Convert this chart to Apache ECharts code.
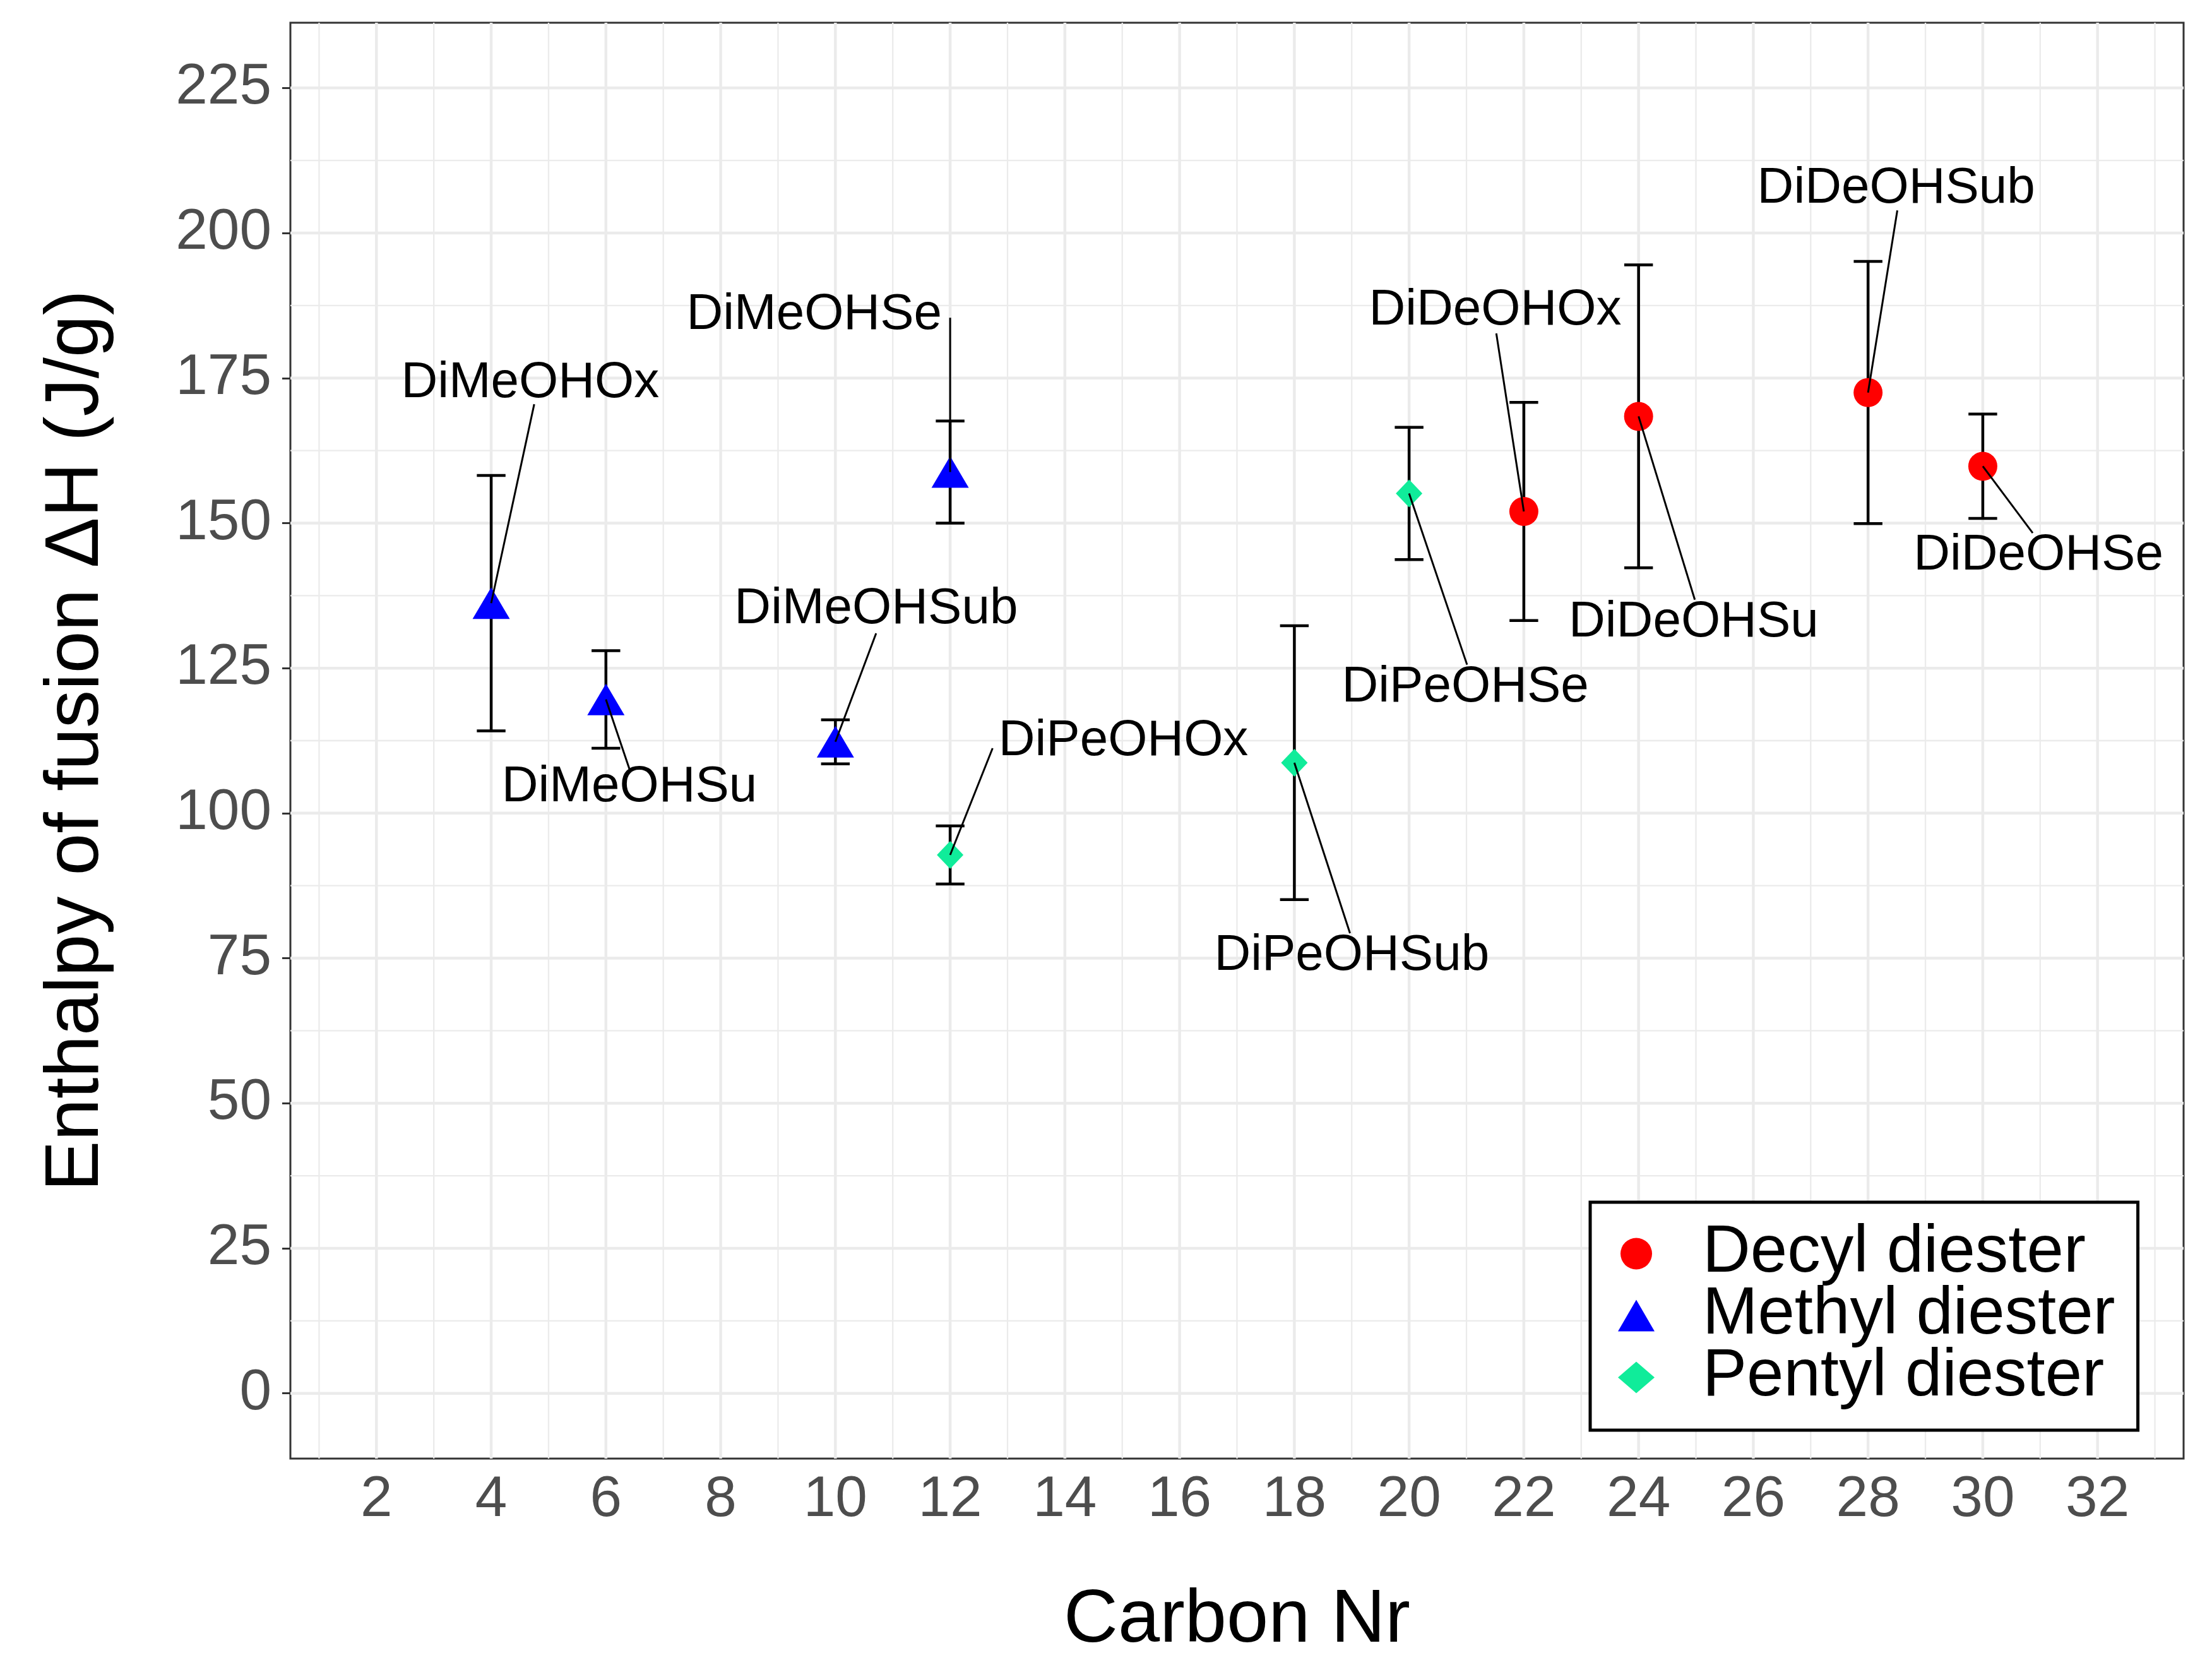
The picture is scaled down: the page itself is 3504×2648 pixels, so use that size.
<!DOCTYPE html>
<html>
<head>
<meta charset="utf-8">
<script src="https://cdn.jsdelivr.net/npm/echarts@6/dist/echarts.min.js"></script>
<style>
  html, body { margin: 0; padding: 0; background: #fff; }
  #chart { width: 3504px; height: 2648px; }
</style>
</head>
<body>
<div id="chart"></div>
<script>
// axis limits (ggplot default 5% expansion of 2..32 and 0..225)
var xMin = 0.5, xMax = 33.5;
var yMin = -11.25, yMax = 236.25;
var xTicks = [2, 4, 6, 8, 10, 12, 14, 16, 18, 20, 22, 24, 26, 28, 30, 32];
var xMinor = [1, 3, 5, 7, 9, 11, 13, 15, 17, 19, 21, 23, 25, 27, 29, 31, 33];
var yTicks = [0, 25, 50, 75, 100, 125, 150, 175, 200, 225];
var yMinor = [12.5, 37.5, 62.5, 87.5, 112.5, 137.5, 162.5, 187.5, 212.5];

// Decyl diester
var decylX = [22, 24, 28, 30];
var decylY = [152.0, 168.4, 172.5, 159.8];
var decylSd = [18.8, 26.1, 22.6, 9.0];
var decylNames = ['DiDeOHOx', 'DiDeOHSu', 'DiDeOHSub', 'DiDeOHSe'];
var decylLabelX = [21.5, 24.96, 28.49, 30.97];
var decylLabelY = [186.6, 132.9, 207.6, 144.4];
var decylSegX = [21.52, 24.98, 28.51, 30.87];
var decylSegY = [182.7, 136.8, 203.9, 148.3];

// Methyl diester
var methylX = [4, 6, 10, 12];
var methylY = [136.2, 119.6, 112.3, 158.8];
var methylSd = [22.0, 8.4, 3.8, 8.8];
var methylNames = ['DiMeOHOx', 'DiMeOHSu', 'DiMeOHSub', 'DiMeOHSe'];
var methylLabelX = [4.68, 6.41, 10.71, 9.63];
var methylLabelY = [174.1, 104.4, 135.1, 185.9];
var methylSegX = [4.75, 6.41, 10.71, 12.0];
var methylSegY = [170.5, 107.6, 131.0, 185.4];

// Pentyl diester
var pentylX = [12, 18, 20];
var pentylY = [92.8, 108.7, 155.1];
var pentylSd = [5.0, 23.6, 11.4];
var pentylNames = ['DiPeOHOx', 'DiPeOHSub', 'DiPeOHSe'];
var pentylLabelX = [15.02, 19.0, 20.98];
var pentylLabelY = [112.4, 75.4, 121.7];
var pentylSegX = [12.74, 18.97, 21.01];
var pentylSegY = [111.2, 79.3, 125.6];

var FONT = '"Liberation Sans", Arial, sans-serif';

function zip2(a, b) {
  return a.map(function (v, i) { return [v, b[i]]; });
}
function errData(xs, ys, sd) {
  return xs.map(function (v, i) { return [v, ys[i] - sd[i], ys[i] + sd[i]]; });
}
function labelData(xs, ys, sx, sy, lx, ly, names) {
  return xs.map(function (v, i) { return [v, ys[i], sx[i], sy[i], lx[i], ly[i], names[i]]; });
}

var errAll = errData(decylX, decylY, decylSd)
  .concat(errData(methylX, methylY, methylSd))
  .concat(errData(pentylX, pentylY, pentylSd));

var labAll = labelData(decylX, decylY, decylSegX, decylSegY, decylLabelX, decylLabelY, decylNames)
  .concat(labelData(methylX, methylY, methylSegX, methylSegY, methylLabelX, methylLabelY, methylNames))
  .concat(labelData(pentylX, pentylY, pentylSegX, pentylSegY, pentylLabelX, pentylLabelY, pentylNames));

function vGrid(width) {
  return function (params, api) {
    var v = api.value(0);
    var p1 = api.coord([v, yMin]);
    var p2 = api.coord([v, yMax]);
    return { type: 'line', shape: { x1: p1[0], y1: p1[1], x2: p2[0], y2: p2[1] },
             style: { stroke: '#EBEBEB', lineWidth: width } };
  };
}
function hGrid(width) {
  return function (params, api) {
    var v = api.value(0);
    var p1 = api.coord([xMin, v]);
    var p2 = api.coord([xMax, v]);
    return { type: 'line', shape: { x1: p1[0], y1: p1[1], x2: p2[0], y2: p2[1] },
             style: { stroke: '#EBEBEB', lineWidth: width } };
  };
}

var myChart = echarts.init(document.getElementById('chart'));

var option = {
  animation: false,
  backgroundColor: '#fff',
  grid: {
    left: 460, right: 45, top: 36, bottom: 338,
    show: true, borderColor: '#333333', borderWidth: 3, backgroundColor: 'transparent'
  },
  xAxis: {
    type: 'value', min: xMin, max: xMax,
    name: 'Carbon Nr', nameLocation: 'middle', nameGap: 198,
    nameTextStyle: { fontSize: 119, color: '#000', fontFamily: FONT },
    axisLine: { show: false },
    axisTick: { show: true, customValues: xTicks, length: 13, lineStyle: { color: '#333333', width: 3 } },
    axisLabel: { customValues: xTicks, fontSize: 91, color: '#4D4D4D', fontFamily: FONT, margin: 20 },
    splitLine: { show: false }
  },
  yAxis: {
    type: 'value', min: yMin, max: yMax,
    name: 'Enthalpy of fusion \u0394H (J/g)', nameLocation: 'middle', nameGap: 278,
    nameTextStyle: { fontSize: 120, color: '#000', fontFamily: FONT },
    axisLine: { show: false },
    axisTick: { show: true, customValues: yTicks, length: 13, lineStyle: { color: '#333333', width: 3 } },
    axisLabel: { customValues: yTicks, fontSize: 91, color: '#4D4D4D', fontFamily: FONT, margin: 30 },
    splitLine: { show: false }
  },
  legend: {
    orient: 'vertical',
    left: 2519, top: 1904,
    padding: [29, 36, 31, 44],
    backgroundColor: '#fff',
    borderColor: '#000', borderWidth: 5,
    itemWidth: 58, itemHeight: 50, itemGap: -7,
    textStyle: { fontSize: 105, color: '#000', fontFamily: FONT, padding: [0, 0, 0, 71] },
    data: ['Decyl diester', 'Methyl diester', 'Pentyl diester']
  },
  series: [
    { type: 'custom', name: 'gx-minor', silent: true, z: 1, renderItem: vGrid(2.3), data: xMinor.map(function (v) { return [v]; }), encode: { x: 0 } },
    { type: 'custom', name: 'gy-minor', silent: true, z: 1, renderItem: hGrid(2.3), data: yMinor.map(function (v) { return [v]; }), encode: { y: 0 } },
    { type: 'custom', name: 'gx-major', silent: true, z: 1, renderItem: vGrid(4.5), data: xTicks.map(function (v) { return [v]; }), encode: { x: 0 } },
    { type: 'custom', name: 'gy-major', silent: true, z: 1, renderItem: hGrid(4.5), data: yTicks.map(function (v) { return [v]; }), encode: { y: 0 } },
    {
      type: 'custom', name: 'errorbars', z: 3, silent: true,
      encode: { x: 0, y: [1, 2] },
      data: errAll,
      renderItem: function (params, api) {
        var x = api.value(0);
        var lo = api.coord([x, api.value(1)]);
        var hi = api.coord([x, api.value(2)]);
        var l = api.coord([x - 0.25, api.value(1)])[0];
        var r = api.coord([x + 0.25, api.value(1)])[0];
        var st = { stroke: '#000', lineWidth: 4.5 };
        return { type: 'group', children: [
          { type: 'line', shape: { x1: lo[0], y1: lo[1], x2: hi[0], y2: hi[1] }, style: st },
          { type: 'line', shape: { x1: l, y1: lo[1], x2: r, y2: lo[1] }, style: st },
          { type: 'line', shape: { x1: l, y1: hi[1], x2: r, y2: hi[1] }, style: st }
        ] };
      }
    },
    { type: 'scatter', name: 'Decyl diester', z: 4, symbol: 'circle', symbolSize: 46,
      itemStyle: { color: '#FF0000', opacity: 1 }, data: zip2(decylX, decylY) },
    { type: 'scatter', name: 'Methyl diester', z: 4, symbol: 'triangle', symbolSize: [59, 50],
      itemStyle: { color: '#0000FF', opacity: 1 }, data: zip2(methylX, methylY) },
    { type: 'scatter', name: 'Pentyl diester', z: 4, symbol: 'diamond', symbolSize: [42, 44],
      itemStyle: { color: '#10EC9A', opacity: 1 }, data: zip2(pentylX, pentylY) },
    {
      type: 'custom', name: 'labels', z: 5, silent: true, clip: false,
      encode: { x: 0, y: 1 },
      data: labAll,
      renderItem: function (params, api) {
        var p = api.coord([api.value(0), api.value(1)]);
        var s = api.coord([api.value(2), api.value(3)]);
        var t = api.coord([api.value(4), api.value(5)]);
        var name = labAll[params.dataIndex][6];
        return { type: 'group', children: [
          { type: 'line', shape: { x1: p[0], y1: p[1], x2: s[0], y2: s[1] },
            style: { stroke: '#000', lineWidth: 3 } },
          { type: 'text', x: t[0], y: t[1],
            style: { text: name, fill: '#000', font: '80px ' + FONT,
                     align: 'center', verticalAlign: 'middle',
                     textAlign: 'center', textVerticalAlign: 'middle' } }
        ] };
      }
    }
  ]
};

myChart.setOption(option);
</script>
</body>
</html>
